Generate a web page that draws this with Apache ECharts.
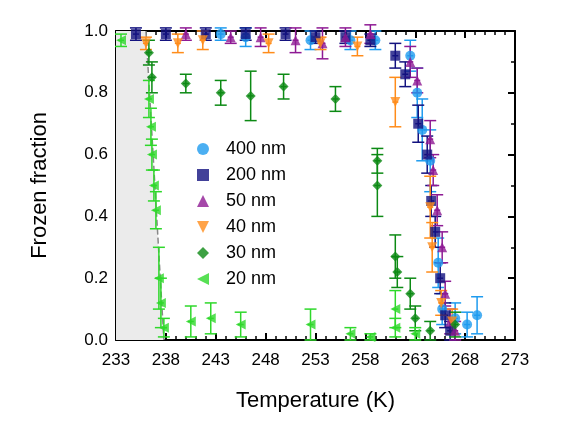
<!DOCTYPE html>
<html><head><meta charset="utf-8">
<script src="https://cdn.jsdelivr.net/npm/echarts@6/dist/echarts.min.js"></script>
<style>html,body{margin:0;background:#fff}#main{width:580px;height:447px}</style>
</head><body><div id="main"></div>
<script>
var T0 = 233;
var xTicks = [233, 238, 243, 248, 253, 258, 263, 268, 273];
var yTicks = [0, 0.2, 0.4, 0.6, 0.8, 1.0];
var names = ['400 nm', '200 nm', '50 nm', '40 nm', '30 nm', '20 nm'];
var colors = ['#1e9bef', '#13127f', '#8e1a94', '#ff8c1a', '#0c8a14', '#2ed82a'];

// [temperature, fraction, error]
var s400 = [[243.5,0.99,0.02],[246,0.98,0.03],[252.5,0.97,0.03],[256.5,0.97,0.03],[259,0.97,0.03],[262.5,0.92,0.05],[263.2,0.8,0.08],[263.7,0.68,0.1],[264.5,0.58,0.1],[265.3,0.25,0.08],[265.7,0.1,0.05],[267,0.07,0.05],[268.2,0.05,0.04],[269.2,0.08,0.06]];
var s200 = [[235,0.99,0.02],[238,0.99,0.02],[242,0.99,0.02],[246,0.99,0.02],[250,0.99,0.02],[253,0.98,0.02],[256,0.98,0.02],[258.5,0.97,0.02],[261,0.92,0.04],[262,0.86,0.04],[263.3,0.7,0.06],[264.2,0.6,0.06],[264.6,0.45,0.05],[265,0.35,0.05],[265.5,0.2,0.05],[266,0.08,0.04],[266.5,0.03,0.03]];
var s50 = [[240,0.99,0.02],[244.5,0.98,0.02],[247.5,0.98,0.03],[251,0.97,0.04],[253.7,0.96,0.05],[256,0.98,0.03],[258.5,0.99,0.03],[262.5,0.9,0.05],[263.2,0.84,0.04],[264.5,0.65,0.06],[264.8,0.55,0.05],[265.2,0.42,0.05],[265.7,0.3,0.05],[266,0.15,0.04],[266.5,0.06,0.04],[267,0.03,0.03]];
var s40 = [[236,0.96,0.02],[239.2,0.96,0.03],[241.7,0.97,0.03],[248.3,0.96,0.03],[253.5,0.96,0.02],[257.2,0.95,0.03],[261,0.77,0.08],[264.5,0.43,0.1],[264.7,0.3,0.08],[265.6,0.12,0.04],[266.7,0.06,0.04]];
var s30 = [[236.3,0.93,0.04],[236.6,0.85,0.05],[240,0.83,0.03],[243.5,0.8,0.04],[246.5,0.79,0.08],[249.8,0.82,0.04],[255,0.78,0.04],[259.2,0.58,0.04],[259.2,0.5,0.1],[261,0.27,0.07],[261.2,0.22,0.05],[262.5,0.15,0.05],[263,0.07,0.04],[264.5,0.03,0.03],[267,0.05,0.04]];
var s20 = [[233.5,0.97,0.02],[236.3,0.78,0.06],[236.5,0.69,0.06],[236.6,0.6,0.05],[236.8,0.5,0.05],[237,0.42,0.06],[237.3,0.2,0.1],[237.5,0.12,0.08],[237.8,0.04,0.03],[240.5,0.06,0.05],[242.5,0.07,0.05],[245.5,0.05,0.04],[252.5,0.05,0.05],[256.5,0.02,0.02],[258.5,0.01,0.01],[261,0.1,0.06],[261,0.04,0.03],[263,0.02,0.02]];
var allData = [s400, s200, s50, s40, s30, s20];

// shaded region under 20 nm onset: [temperature, fraction]
var shade = [[233,1],[236,1],[237.8,0],[233,0]];
var shadeEdge = [[236,1],[237.8,0]];

var symbols = ['circle', 'rect', 'triangle', 'triangle', 'diamond', 'triangle'];
var rotates = [0, 0, 0, 180, 0, 90];
var legendIcons = ['circle', 'rect', 'triangle', 'path://M0,0L10,0L5,10Z', 'diamond', 'path://M10,0L10,10L0,5Z'];

function shift(d) { return d.map(function (p) { return [p[0] - T0, p[1], p[2]]; }); }

var series = [{
    type: 'custom', silent: true, z: 1,
    data: [0],
    renderItem: function (params, api) {
        var pts = shade.map(function (p) { return api.coord([p[0] - T0, p[1]]); });
        return { type: 'polygon', shape: { points: pts }, style: { fill: '#ebebeb' } };
    }
}, {
    type: 'line', silent: true, symbol: 'none', z: 2,
    data: shift(shadeEdge),
    lineStyle: { color: '#888', type: 'dashed', width: 1.5 }
}];

allData.forEach(function (d, i) {
    series.push({
        type: 'scatter', name: names[i], z: 4,
        data: shift(d),
        symbol: symbols[i], symbolRotate: rotates[i], symbolSize: 10,
        itemStyle: { color: colors[i] }
    });
    series.push({
        type: 'custom', name: names[i], z: 3,
        itemStyle: { color: colors[i] },
        data: shift(d),
        renderItem: function (params, api) {
            var x = api.value(0), y = api.value(1), e = api.value(2);
            var top = api.coord([x, y + e]), bot = api.coord([x, y - e]);
            var l = api.coord([x - 0.3, y]), r = api.coord([x + 0.3, y]);
            var st = { stroke: colors[i], lineWidth: 1.5 };
            return { type: 'group', children: [
                { type: 'line', shape: { x1: top[0], y1: top[1], x2: bot[0], y2: bot[1] }, style: st },
                { type: 'line', shape: { x1: top[0] - 6, y1: top[1], x2: top[0] + 6, y2: top[1] }, style: st },
                { type: 'line', shape: { x1: bot[0] - 6, y1: bot[1], x2: bot[0] + 6, y2: bot[1] }, style: st },
                { type: 'line', shape: { x1: l[0], y1: l[1], x2: r[0], y2: r[1] }, style: st }
            ] };
        }
    });
});

var axisCommon = {
    axisLine: { show: true, onZero: false, lineStyle: { color: '#000', width: 2 } },
    axisTick: { inside: true, length: 7, lineStyle: { color: '#000', width: 2 } },
    minorTick: { show: true, splitNumber: 5, length: 4, lineStyle: { color: '#000', width: 1.5 } },
    splitLine: { show: false }
};
var yMinor = { minorTick: { show: true, splitNumber: 2, length: 4, lineStyle: { color: '#000', width: 1.5 } } };

var option = {
    animation: false,
    grid: { left: 116, right: 65, top: 31, bottom: 107 },
    legend: {
        data: names.map(function (n, i) { return { name: n, icon: legendIcons[i], itemStyle: { color: colors[i] } }; }),
        orient: 'vertical', left: 192, top: 135, itemGap: 8,
        itemWidth: 12, itemHeight: 12,
        textStyle: { fontSize: 18, color: '#000', fontFamily: 'Liberation Sans', padding: [0, 0, 0, 12] }
    },
    xAxis: [Object.assign({
        type: 'value', min: 0, max: 40, interval: 5,
        name: 'Temperature (K)', nameLocation: 'middle', nameGap: 50,
        nameTextStyle: { fontSize: 22, color: '#000', fontFamily: 'Liberation Sans' },
        axisLabel: { fontSize: 17, color: '#000', fontFamily: 'Liberation Sans', margin: 12,
            formatter: function (v) { return xTicks[v / 5]; } }
    }, axisCommon), Object.assign({
        type: 'value', position: 'top', min: 0, max: 40, interval: 5, axisLabel: { show: false }
    }, axisCommon)],
    yAxis: [Object.assign({
        type: 'value', min: 0, max: 1, interval: 0.2,
        name: 'Frozen fraction', nameLocation: 'middle', nameGap: 65,
        nameTextStyle: { fontSize: 22, color: '#000', fontFamily: 'Liberation Sans' },
        axisLabel: { fontSize: 17, color: '#000', fontFamily: 'Liberation Sans',
            formatter: function (v) { return v.toFixed(1); } }
    }, axisCommon, yMinor),
    Object.assign({
        type: 'value', position: 'right', min: 0, max: 1, interval: 0.2, axisLabel: { show: false }
    }, axisCommon, yMinor)],
    series: series
};
var myChart = echarts.init(document.getElementById('main'));
myChart.setOption(option);
</script>
</body></html>
